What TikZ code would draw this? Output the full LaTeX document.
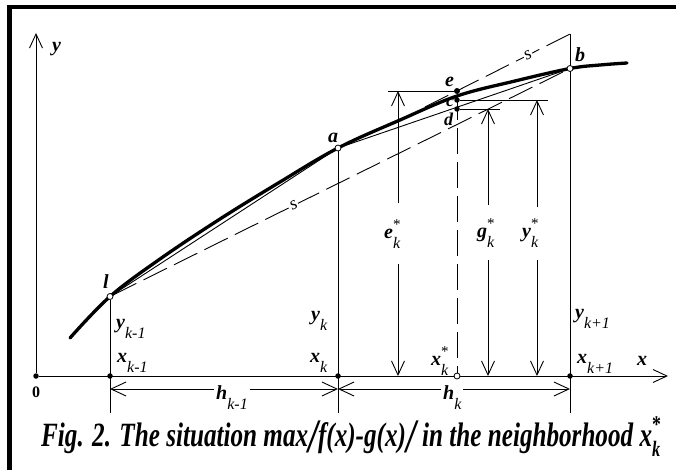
\documentclass[tikz,border=0pt]{standalone}
\usepackage{fontspec}
\usepackage{graphicx}
\setmainfont{Liberation Serif}
\usetikzlibrary{arrows.meta,backgrounds}
\newcommand\sbs[1]{\raisebox{-10pt}{\fontsize{16}{16}\selectfont\mdseries\itshape #1}}
\newcommand\ssb[2]{\rlap{\raisebox{9pt}{\fontsize{15}{15}\selectfont\mdseries\upshape #1}}\raisebox{-10pt}{\fontsize{16}{16}\selectfont\mdseries\itshape #2}}
\newcommand\bigsl{\raisebox{-6pt}{\fontsize{48}{48}\selectfont /}}
\begin{document}
\begin{tikzpicture}[x=1pt,y=-1pt,
  ln/.style={line width=0.9pt},
  crv/.style={line width=3.3pt, line cap=round},
  frm/.style={line width=4.5pt},
  arr/.style={ln,-{Straight Barb[length=14pt,width=13pt]}},
  dimarr/.style={ln,{Straight Barb[length=15pt,width=14pt]}-{Straight Barb[length=15pt,width=14pt]}},
  dsh/.style={ln,dash pattern=on 26pt off 8pt},
  fdot/.style={circle,fill=black,inner sep=0pt,minimum size=5.5pt},
  odot/.style={circle,draw=black,fill=white,line width=0.8pt,inner sep=0pt,minimum size=6pt},
  lbl/.style={anchor=base west,inner sep=0pt,font=\fontsize{20}{20}\selectfont\bfseries\itshape},
  hlbl/.style={anchor=base west,inner sep=2pt,fill=white,font=\fontsize{20}{20}\selectfont\bfseries\itshape},
  slbl/.style={sloped,fill=white,inner sep=1pt,font=\fontsize{18}{18}\selectfont\itshape}
]
\useasboundingbox (0,0) rectangle (676,470);
\draw[frm] (9.5,470) -- (9.5,7) -- (676,7);

% curve f(x)
\draw[crv] plot[smooth, tension=0.6] coordinates {(70,338) (110,296.5) (160,259) (220,219) (280,182) (338,148) (400,120) (457,96) (515,81) (570,68.5) (600,65) (627,63)};

% points
\node[fdot] (O) at (36,376) {};
\node[fdot] (X1) at (110,376) {};
\node[fdot] (X2) at (338,376) {};
\node[odot] (X3) at (457,376) {};
\node[fdot] (X4) at (570,376) {};
\node[odot] (l) at (110,296.5) {};
\node[odot] (a) at (338,148) {};
\node[odot] (b) at (570,68.5) {};
\node[fdot,minimum size=6pt] (e) at (457,91) {};
\node[fdot] (c) at (457,100) {};
\node[fdot] (d) at (457,109) {};

% coordinates
\coordinate (yT) at (36,33);
\coordinate (xT) at (668,376);
\coordinate (L1) at (110,413);
\coordinate (L2) at (338,413);
\coordinate (L4) at (570,413);
\coordinate (T) at (570,34);
\coordinate (es) at (425,107);
\coordinate (eL) at (388,91);
\coordinate (cR) at (548,100);
\coordinate (dR) at (500,109);
\coordinate (D1) at (110,389);
\coordinate (D2) at (338,389);
\coordinate (D3) at (570,389);
\coordinate (eT) at (398,91);
\coordinate (eB) at (398,376);
\coordinate (eGt) at (398,203);
\coordinate (eGb) at (398,264);
\coordinate (gT) at (488,109);
\coordinate (gB) at (488,376);
\coordinate (gGt) at (488,205);
\coordinate (gGb) at (488,260);
\coordinate (yyT) at (537,100);
\coordinate (yyB) at (537,376);
\coordinate (yGt) at (537,207);
\coordinate (yGb) at (537,260);

\begin{scope}[on background layer]
\draw[arr] (O) -- (yT);
\draw[arr] (O) -- (xT);
\draw[ln] (l) -- (L1);
\draw[ln] (a) -- (L2);
\draw[ln] (T) -- (L4);
\draw[ln] (l) -- (a);
\draw[ln] (a) -- (b);
\draw[dsh] (l) -- node[slbl,pos=0.398] {s} (b);
\draw[dsh] (es) -- node[slbl,pos=0.71] {s} (T);
\draw[dsh] (e) -- (X3);
\draw[ln] (e) -- (eL);
\draw[ln] (c) -- (cR);
\draw[ln] (d) -- (dR);
\draw[arr] (eGt) -- (eT);
\draw[arr] (eGb) -- (eB);
\draw[arr] (gGt) -- (gT);
\draw[arr] (gGb) -- (gB);
\draw[arr] (yGt) -- (yyT);
\draw[arr] (yGb) -- (yyB);
\draw[dimarr] (D1) -- (D2);
\draw[dimarr] (D2) -- (D3);
\end{scope}

% labels
\node[lbl] (ly) at (52,52) {y};
\node[lbl] (ll) at (103,288) {l};
\node[lbl] (la) at (328,143) {a};
\node[lbl] (lb) at (575,62) {b};
\node[lbl] (le) at (445,87) {e};
\node[lbl,font=\fontsize{18}{18}\selectfont\bfseries\itshape] (lc) at (446,107) {c};
\node[lbl,font=\fontsize{18}{18}\selectfont\bfseries\itshape] (ld) at (444,126) {d};
\node[lbl] (lyk1) at (116,328) {y\sbs{k-1}};
\node[lbl] (lxk1) at (117,362) {x\sbs{k-1}};
\node[lbl] (lyk) at (311,320) {y\sbs{k}};
\node[lbl] (lxk) at (310,362) {x\sbs{k}};
\node[lbl] (lyk2) at (575,318) {y\sbs{k+1}};
\node[lbl] (lxk2) at (577,363) {x\sbs{k+1}};
\node[lbl] (lx) at (637,365) {x};
\node[lbl] (lxs) at (431,365) {x\ssb{*}{k}};
\node[lbl,font=\fontsize{16}{16}\selectfont\bfseries] (l0) at (32,397) {0};
\node[lbl] (les) at (384,238) {e\ssb{*}{k}};
\node[lbl] (lgs) at (477,237) {g\ssb{*}{k}};
\node[lbl] (lys) at (522,237) {y\ssb{*}{k}};
\node[hlbl] (hk1) at (214,399) {h\sbs{k-1}};
\node[hlbl] (hk) at (441,399) {h\sbs{k}};

% caption
\node[anchor=base west,inner sep=0pt] (cap) at (41,446) {\resizebox{619pt}{\height}{\fontsize{34}{34}\selectfont\bfseries\itshape Fig. 2. The situation max\bigsl f(x)-g(x)\bigsl\ in the neighborhood x\rlap{\raisebox{14pt}{\fontsize{24}{24}\selectfont\upshape *}}\raisebox{-10pt}{\fontsize{22}{22}\selectfont k}}};
\end{tikzpicture}
\end{document}
